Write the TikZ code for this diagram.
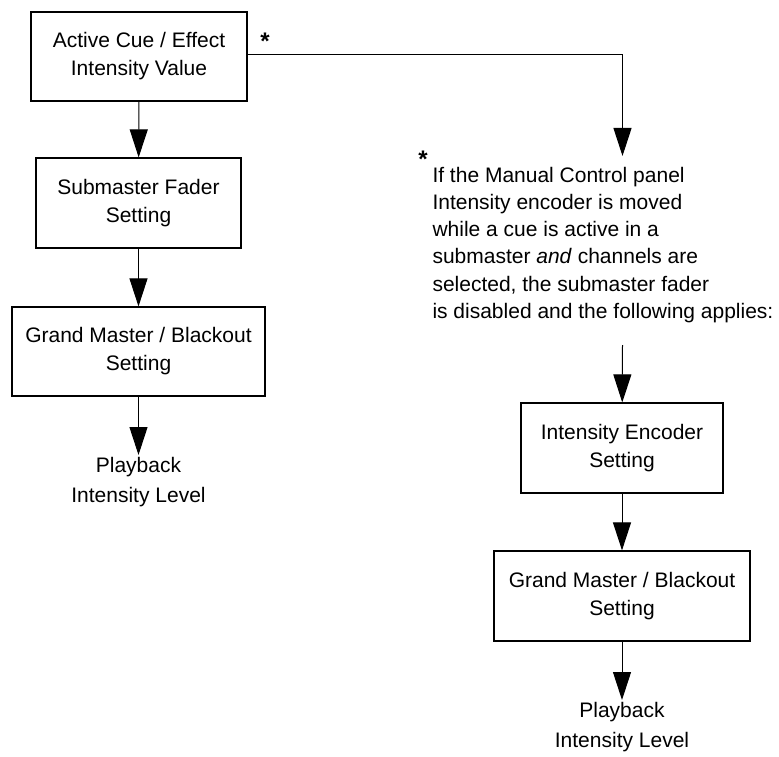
\documentclass[tikz,border=0pt]{standalone}
\usepackage{fontspec}
\setmainfont{Liberation Sans}
\usepackage{tikz}
\usetikzlibrary{arrows.meta}

\tikzset{
  box/.style={draw, line width=1.2pt, align=center, inner sep=0pt,
    font=\fontsize{21}{28}\selectfont},
  result/.style={align=center, inner sep=2pt, font=\fontsize{21}{30}\selectfont},
  starmark/.style={inner sep=0pt, font=\fontsize{24}{28}\selectfont\bfseries}
}

\begin{document}
\begin{tikzpicture}[->,>={Triangle[length=28pt,width=18pt]},x=1pt,y=-1pt,line width=1pt]
      \useasboundingbox (0,0) rectangle (779,757);

      % left column
      \node[box, minimum width=216pt, minimum height=89pt] (cue) at (139,56.5) {Active Cue / Effect\\Intensity Value};
      \node[box, minimum width=205pt, minimum height=90pt] (sub) at (138.5,203) {Submaster Fader\\Setting};
      \node[box, minimum width=253pt, minimum height=89pt] (gm1) at (138.5,351.5) {Grand Master / Blackout\\Setting};
      \node[result, anchor=north] (out1) at (138.5,455) {Playback\\Intensity Level};

      % right column
      \node[starmark] (star1) at (265,41) {*};
      \node[starmark] (star2) at (423,159) {*};
      \node[anchor=north west, align=left, inner sep=0pt,
            font=\fontsize{21}{27.2}\selectfont] (note) at (432,166.5)
        {If the Manual Control panel\\Intensity encoder is moved\\while a cue is active in a\\submaster \textit{and} channels are\\selected, the submaster fader\\is disabled and the following applies:};
      \coordinate (a1) at (622.5,156);
      \coordinate (a2) at (622.5,345);
      \node[box, minimum width=202pt, minimum height=90pt] (enc) at (622,448) {Intensity Encoder\\Setting};
      \node[box, minimum width=256pt, minimum height=90pt] (gm2) at (622,596) {Grand Master / Blackout\\Setting};
      \node[result, anchor=north] (out2) at (622,700) {Playback\\Intensity Level};

      \path (cue) edge (sub)
            (sub) edge (gm1)
            (gm1) edge (out1)
            (a2) edge (enc)
            (enc) edge (gm2)
            (gm2) edge (out2)
            ;
      \draw (cue.east |- 0,55) -| (a1);
    \end{tikzpicture}
\end{document}
